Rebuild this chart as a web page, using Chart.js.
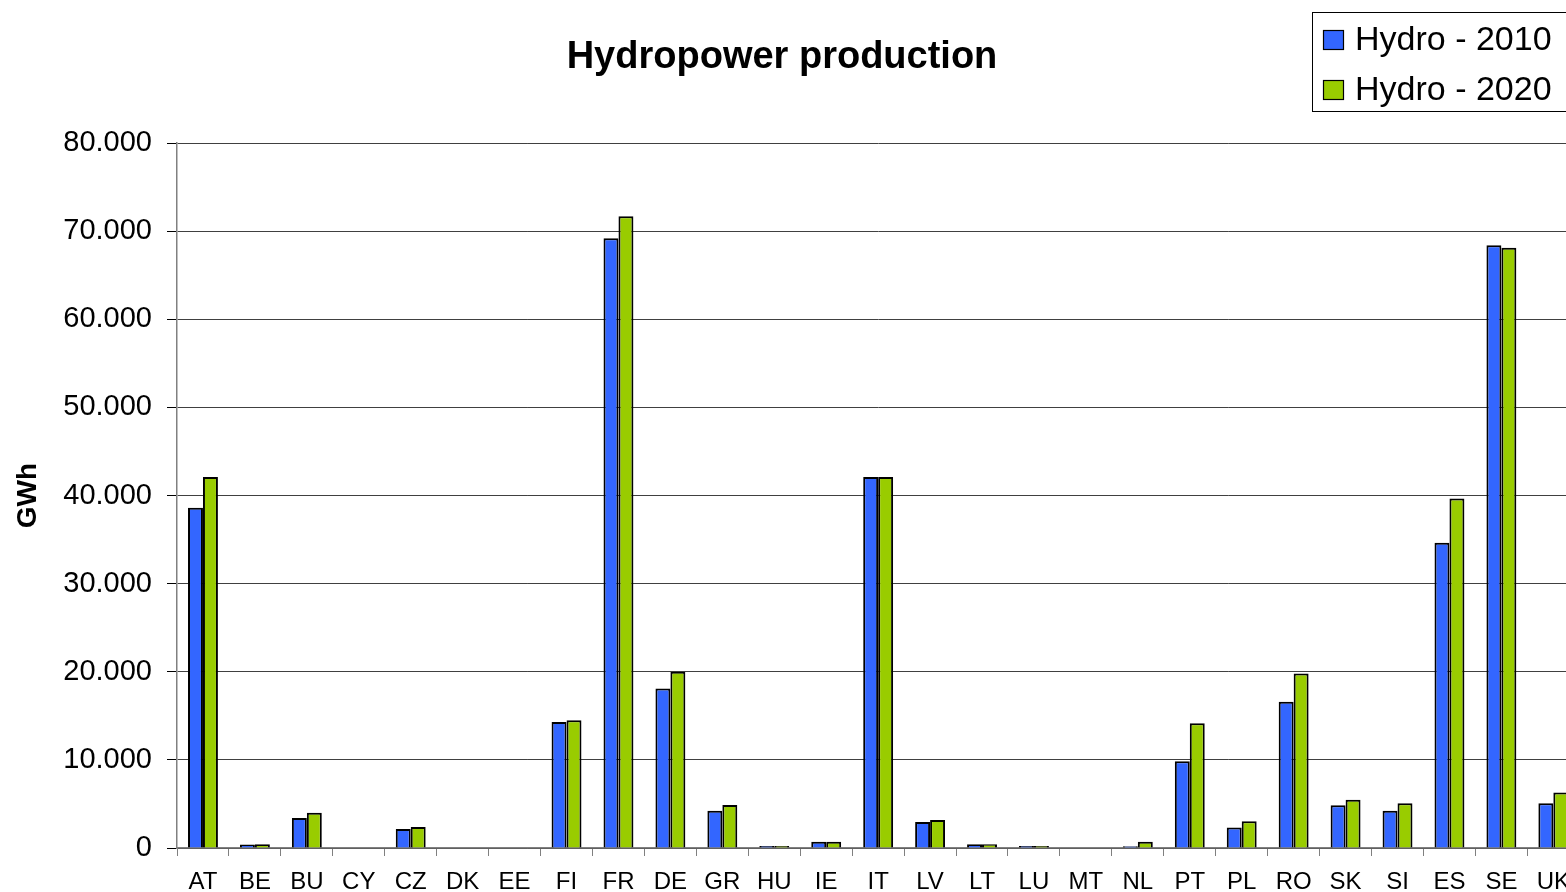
<!DOCTYPE html>
<html>
<head>
<meta charset="utf-8">
<script src="https://cdn.jsdelivr.net/npm/chart.js@4.4.0/dist/chart.umd.min.js"></script>
<style>
  html, body { margin: 0; padding: 0; background: #ffffff; overflow: hidden; width: 1566px; height: 892px; }
  #wrap { position: absolute; left: -18px; top: 0; width: 1600px; height: 892px; }
</style>
</head>
<body>
<div id="wrap"><canvas id="c" width="1600" height="892"></canvas></div>
<script>
const chartTitle = 'Hydropower production';
const yAxisTitle = 'GWh';
const categories = ['AT','BE','BU','CY','CZ','DK','EE','FI','FR','DE','GR','HU','IE','IT','LV','LT','LU','MT','NL','PT','PL','RO','SK','SI','ES','SE','UK'];
const seriesNames = ['Hydro - 2010', 'Hydro - 2020'];
const hydro2010 = [38600, 400, 3400, 0, 2150, 0, 0, 14300, 69200, 18100, 4230, 230, 700, 42100, 2950, 420, 230, 0, 200, 9850, 2340, 16600, 4850, 4230, 34650, 68400, 5070];
const hydro2020 = [42100, 420, 4000, 0, 2380, 0, 0, 14500, 71700, 20000, 4880, 230, 700, 42100, 3180, 430, 230, 0, 720, 14150, 3030, 19800, 5480, 5070, 39650, 68100, 6300];
const yTicks = [0, 10000, 20000, 30000, 40000, 50000, 60000, 70000, 80000];

const FONT = '"Liberation Sans", Arial, Helvetica, sans-serif';
const COLORS = ['#3366FF', '#99CC00'];

function fmt(v) {
  if (v === 0) return '0';
  const s = String(Math.round(v));
  return s.replace(/\B(?=(\d{3})+(?!\d))/g, '.');
}

const boxLegend = {
  id: 'boxLegend',
  afterDraw(chart) {
    const ctx = chart.ctx;
    ctx.save();
    const bx = 1330, by = 12, bw = 300, bh = 99;
    ctx.fillStyle = '#ffffff';
    ctx.fillRect(bx, by, bw, bh);
    ctx.strokeStyle = '#000000';
    ctx.lineWidth = 1;
    ctx.strokeRect(bx + 0.5, by + 0.5, bw, bh);
    ctx.font = '34px ' + FONT;
    ctx.textBaseline = 'alphabetic';
    ctx.textAlign = 'left';
    chart.data.datasets.forEach((ds, i) => {
      const sy = 30 + i * 50;
      ctx.fillStyle = ds.backgroundColor;
      ctx.fillRect(1341, sy, 21, 20);
      ctx.strokeStyle = '#000000';
      ctx.lineWidth = 1.2;
      ctx.strokeRect(1341.5, sy + 0.5, 20, 19);
      ctx.fillStyle = '#000000';
      ctx.fillText(ds.label, 1373, 50 + i * 50);
    });
    ctx.restore();
  }
};

new Chart(document.getElementById('c'), {
  type: 'bar',
  data: {
    labels: categories,
    datasets: [
      { label: seriesNames[0], data: hydro2010, backgroundColor: COLORS[0], borderColor: '#000000', borderWidth: 2 },
      { label: seriesNames[1], data: hydro2020, backgroundColor: COLORS[1], borderColor: '#000000', borderWidth: 2 }
    ]
  },
  options: {
    responsive: false,
    animation: false,
    datasets: { bar: { categoryPercentage: 0.576, barPercentage: 1.0 } },
    layout: { padding: 0 },
    plugins: {
      legend: { display: false },
      tooltip: { enabled: false },
      title: {
        display: true,
        text: chartTitle,
        color: '#000000',
        font: { family: FONT, size: 38, weight: 'bold', lineHeight: 1.2 },
        padding: { top: 35, bottom: 62.4 }
      }
    },
    scales: {
      x: {
        grid: { display: true, offset: true, drawOnChartArea: false, drawTicks: true, tickLength: 8, color: '#808080', lineWidth: 1 },
        border: { display: true, color: '#808080', width: 1.5 },
        ticks: { color: '#000000', font: { family: FONT, size: 24 }, padding: 12, maxRotation: 0, autoSkip: false },
        afterFit(scale) { scale.height = 44; }
      },
      y: {
        min: 0,
        max: 80000,
        afterBuildTicks(scale) { scale.ticks = yTicks.map(v => ({ value: v })); },
        grid: { color: '#404040', lineWidth: 1, drawTicks: true, tickLength: 10, tickColor: '#000000' },
        border: { display: true, color: '#808080', width: 1.5 },
        ticks: { color: '#000000', font: { family: FONT, size: 29 }, padding: 15, callback: (v) => fmt(v) },
        title: {
          display: true,
          text: yAxisTitle,
          color: '#000000',
          font: { family: FONT, size: 28, weight: 'bold', lineHeight: 1.2 },
          padding: { top: 29, bottom: 0 }
        },
        afterFit(scale) { scale.width = 195; }
      }
    }
  },
  plugins: [boxLegend]
});
</script>
</body>
</html>
